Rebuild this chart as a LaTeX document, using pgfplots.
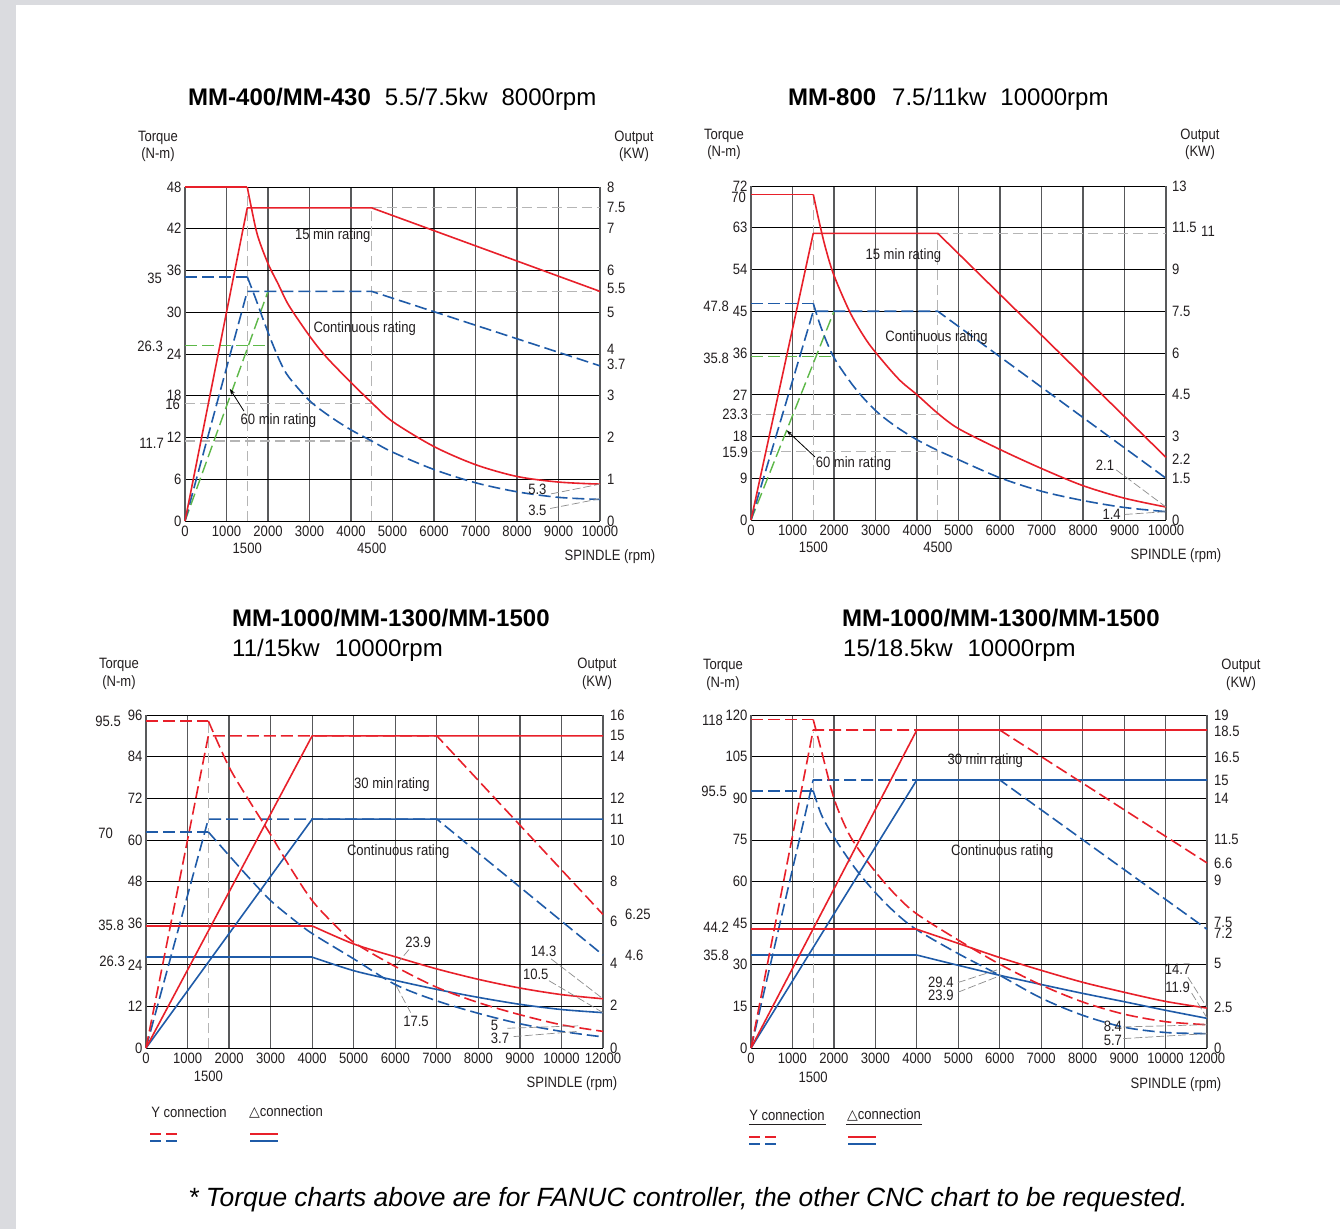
\documentclass[border=0pt]{standalone}
\usepackage{fontspec}
\setmainfont{Liberation Sans}
\newfontfamily\nar[FakeStretch=0.87]{Liberation Sans}
\newfontfamily\sym{DejaVu Sans}
\usepackage{pgfplots}
\pgfplotsset{compat=1.18}
\usetikzlibrary{arrows.meta}

\definecolor{cred}{HTML}{E8202A}
\definecolor{cblue}{HTML}{1F5BA8}
\definecolor{cgreen}{HTML}{5DB848}
\definecolor{cgrid}{HTML}{58595B}
\definecolor{cref}{HTML}{B5B5B5}
\definecolor{ctext}{HTML}{231F20}
\definecolor{cbg}{HTML}{DADBDF}

\newcommand{\sm}{\nar\fontsize{15bp}{15bp}\selectfont}
\newcommand{\ttl}{\fontsize{24bp}{24bp}\selectfont}

\tikzset{
  rd/.style={cred, line width=1.6bp, line join=round},
  bl/.style={cblue, line width=1.6bp, line join=round},
  gr/.style={cgreen, line width=1.4bp},
  dsh/.style={dash pattern=on 12bp off 5bp},
  refl/.style={cref, line width=1.1bp, dash pattern=on 10bp off 5bp},
  lead/.style={black!45, line width=0.7bp, dash pattern=on 8bp off 3bp},
  lbl/.style={font=\sm, text=ctext, inner sep=0pt},
}
\pgfplotsset{
  panel/.style={scale only axis, anchor=south west, clip=false,
    xmin=0, ymin=0, grid=major, major tick length=0pt,
    scaled x ticks=false, scaled y ticks=false,
    x grid style={cgrid, line width=1.2bp},
    y grid style={black, line width=0.8bp},
    separate axis lines,
    x axis line style={black, line width=1bp},
    y axis line style={cgrid, line width=1.2bp},
    ticklabel style={font=\sm, text=ctext},
    xticklabel style={yshift=-1.5bp}},
}
% right-hand (output) labels and extra left labels
\newcommand{\rl}[4][7bp]{\node[lbl, anchor=west, xshift=#1] at (axis cs:#2,#3) {#4};}
\newcommand{\xl}[3]{\node[lbl, anchor=east, xshift=#3] at (axis cs:0,#1) {#2};}
\newcommand{\bl}[2]{\node[lbl] at (axis cs:#1,0) [yshift=-27bp] {#2};}

\begin{document}
\begin{tikzpicture}
\begin{scope}[x=1bp,y=-1bp]
\fill[cbg] (0,0) rectangle (1340,1229);
\fill[white] (16,5) rectangle (1340,1229);
\end{scope}

%================ panel 1 : MM-400/MM-430
\begin{axis}[panel, at={(185bp,-521bp)}, width=415bp, height=334bp,
  xmax=10000, ymax=48,
  xtick={0,1000,...,10000},
  xticklabels={0,1000,2000,3000,4000,5000,6000,7000,8000,9000,10000},
  ytick={0,6,...,48}, yticklabels={0,6,12,18,24,30,36,42,48}]
\addplot[refl] coordinates {(1500,0) (1500,48)};
\addplot[refl] coordinates {(4500,0) (4500,45)};
\addplot[refl] coordinates {(4500,45) (10000,45)};
\addplot[refl] coordinates {(4500,33) (10000,33)};
\addplot[refl] coordinates {(0,16.9) (4500,16.9)};
\addplot[refl] coordinates {(0,11.5) (4500,11.5)};
% 60 min rating
\addplot[gr, dsh] coordinates {(0,25.2) (2000,25.2)};
\addplot[gr, dsh] coordinates {(0,0) (2000,33)};
% continuous rating
\addplot[bl, dsh] coordinates {(0,35.1) (1500,35.1)};
\addplot[bl, dsh, smooth] coordinates {(1500,35.1) (1700,32) (1900,28.7) (2100,25.6)
  (2300,22.8) (2500,20.7) (3000,17.3) (3500,15) (4000,13.1) (4500,11.5) (5000,9.9)
  (6000,7.4) (7000,5.5) (8000,4.2) (9000,3.4) (10000,3.1)};
\addplot[bl, dsh] coordinates {(0,0) (1500,33) (4500,33) (10000,22.3)};
% 15 min rating
\addplot[rd] coordinates {(0,48) (1500,48)};
\addplot[rd, smooth] coordinates {(1500,48) (1600,45) (1750,41) (2000,37) (2250,34)
  (2500,31) (3000,26.6) (3400,23.6) (4000,19.9) (4500,17) (5000,14.3) (6000,10.7)
  (7000,8.1) (8000,6.4) (9000,5.6) (10000,5.3)};
\addplot[rd] coordinates {(0,0) (1500,45) (4500,45) (10000,33)};
\node[lbl] at (axis cs:3560,41) {15 min rating};
\node[lbl] at (axis cs:4330,27.7) {Continuous rating};
\node[lbl] at (axis cs:2250,14.4) {60 min rating};
\draw[black, line width=0.8bp, -{Stealth[length=6bp,width=4bp]}] (axis cs:1420,15.8) -- (axis cs:1080,19);
\node[lbl] at (axis cs:8490,4.6) {5.3};
\node[lbl] at (axis cs:8490,1.5) {3.5};
\draw[lead] (axis cs:8820,3.9) -- (axis cs:10000,5.3);
\draw[lead] (axis cs:8800,1.8) -- (axis cs:10000,3.2);
\rl{10000}{48}{8}\rl{10000}{45}{7.5}\rl{10000}{42}{7}\rl{10000}{36}{6}
\rl{10000}{33.4}{5.5}\rl{10000}{30}{5}\rl{10000}{24.6}{4}\rl{10000}{22.5}{3.7}
\rl{10000}{18}{3}\rl{10000}{12}{2}\rl{10000}{6}{1}\rl{10000}{0}{0}
\xl{16.8}{16}{-5bp}\xl{34.9}{35}{-23bp}\xl{25.1}{26.3}{-22bp}\xl{11.2}{11.7}{-21bp}
\bl{1500}{1500}\bl{4500}{4500}
\end{axis}

%================ panel 2 : MM-800
\begin{axis}[panel, at={(751bp,-520bp)}, width=415bp, height=334bp,
  xmax=10000, ymax=72,
  xtick={0,1000,...,10000},
  xticklabels={0,1000,2000,3000,4000,5000,6000,7000,8000,9000,10000},
  ytick={0,9,...,72}, yticklabels={0,9,18,27,36,45,54,63,72}]
\addplot[refl] coordinates {(1500,0) (1500,70.2)};
\addplot[refl] coordinates {(4500,0) (4500,61.8)};
\addplot[refl] coordinates {(4500,61.8) (10000,61.8)};
\addplot[refl] coordinates {(0,22.8) (4500,22.8)};
\addplot[refl] coordinates {(0,14.8) (4500,14.8)};
\addplot[gr, dsh] coordinates {(0,35.2) (2000,35.2)};
\addplot[gr, dsh] coordinates {(0,0) (2000,45)};
\addplot[bl, dsh] coordinates {(0,46.7) (1500,46.7)};
\addplot[bl, dsh, smooth] coordinates {(1500,46.7) (1700,41.2) (2000,35) (2500,28.5)
  (3000,23.6) (3500,20.1) (4000,17.3) (4500,15) (5000,13) (6000,9.1) (7000,6.2)
  (8000,4.2) (9000,2.7) (10000,1.8)};
\addplot[bl, dsh] coordinates {(0,0) (1500,45) (4500,45) (10000,9)};
\addplot[rd] coordinates {(0,70.2) (1500,70.2)};
\addplot[rd, smooth] coordinates {(1500,70.2) (1650,64) (1800,58.5) (2000,52.7)
  (2400,44.5) (2800,38.5) (3200,34) (3600,30) (4000,27) (4500,23) (5000,19.7)
  (6000,15.2) (7000,11.1) (8000,7.4) (9000,4.7) (10000,2.8)};
\addplot[rd] coordinates {(0,0) (1500,61.8) (4500,61.8) (10000,13.5)};
\node[lbl] at (axis cs:3670,57) {15 min rating};
\node[lbl] at (axis cs:4470,39.4) {Continuous rating};
\node[lbl] at (axis cs:2470,12.1) {60 min rating};
\draw[black, line width=0.8bp, -{Stealth[length=6bp,width=4bp]}] (axis cs:1540,13.6) -- (axis cs:860,19.3);
\node[lbl] at (axis cs:8530,11.7) {2.1};
\node[lbl] at (axis cs:8690,1.3) {1.4};
\draw[lead] (axis cs:8800,10.8) -- (axis cs:10000,2.8);
\draw[lead] (axis cs:9000,1.2) -- (axis cs:10000,1.8);
\rl[6bp]{10000}{72}{13}\rl[6bp]{10000}{63}{11.5}\rl[35bp]{10000}{62.3}{11}
\rl[6bp]{10000}{54}{9}\rl[6bp]{10000}{45}{7.5}\rl[6bp]{10000}{36}{6}
\rl[6bp]{10000}{27}{4.5}\rl[6bp]{10000}{18}{3}\rl[6bp]{10000}{13.1}{2.2}
\rl[6bp]{10000}{9}{1.5}\rl[6bp]{10000}{0}{0}
\xl{69.6}{70}{-5bp}\xl{46}{47.8}{-22bp}\xl{34.9}{35.8}{-22bp}
\xl{22.8}{23.3}{-3bp}\xl{14.6}{15.9}{-3bp}
\bl{1500}{1500}\bl{4500}{4500}
\end{axis}

%================ panel 3 : MM-1000/1300/1500 11/15kw
\begin{axis}[panel, at={(146bp,-1048bp)}, width=457bp, height=333bp,
  xmax=11000, ymax=96,
  xtick={0,1000,...,11000},
  xticklabels={0,1000,2000,3000,4000,5000,6000,7000,8000,9000,10000,12000},
  ytick={0,12,...,96}, yticklabels={0,12,24,36,48,60,72,84,96}]
\addplot[refl] coordinates {(1500,0) (1500,94)};
% continuous rating, Y connection (dashed) and delta connection (solid)
\addplot[bl, dsh] coordinates {(0,62.3) (1500,62.3)};
\addplot[bl, dsh, smooth] coordinates {(1500,62.3) (2000,55.5) (2500,48.8) (3000,42.5)
  (3500,37.5) (4000,33) (5000,25.7) (6000,18.3) (7000,13.6) (8000,10) (9000,7)
  (10000,4.8) (11000,3.2)};
\addplot[bl, dsh] coordinates {(0,0) (1500,66) (7000,66) (11000,26.8)};
\addplot[bl] coordinates {(0,26.2) (4000,26.2)};
\addplot[bl, smooth] coordinates {(4000,26.2) (5000,22.3) (6000,19.5) (7000,16.9)
  (8000,14.6) (9000,12.6) (10000,11.1) (11000,10.2)};
\addplot[bl] coordinates {(0,0) (4000,66) (11000,66)};
% 30 min rating
\addplot[rd, dsh] coordinates {(0,94.3) (1500,94.3)};
\addplot[rd, dsh, smooth] coordinates {(1500,94.3) (2000,81) (2500,71) (3000,61.5)
  (3500,51.5) (4000,42.5) (4500,36) (5000,30.5) (6000,23.5) (7000,17.5) (8000,13.1)
  (9000,9.6) (10000,6.7) (11000,4.8)};
\addplot[rd, dsh] coordinates {(0,0) (1500,90) (7000,90) (11000,38.5)};
\addplot[rd] coordinates {(0,35.2) (4000,35.2)};
\addplot[rd, smooth] coordinates {(4000,35.2) (5000,30) (6000,26.3) (7000,22.8)
  (8000,19.8) (9000,17.3) (10000,15.4) (11000,14.2)};
\addplot[rd] coordinates {(0,0) (4000,90) (11000,90)};
\node[lbl] at (axis cs:5920,76) {30 min rating};
\node[lbl] at (axis cs:6070,56.5) {Continuous rating};
\node[lbl] at (axis cs:6550,30.6) {23.9};
\node[lbl] at (axis cs:6500,7.6) {17.5};
\node[lbl] at (axis cs:9570,27.8) {14.3};
\node[lbl] at (axis cs:9380,21.3) {10.5};
\node[lbl] at (axis cs:8390,6.4) {5};
\node[lbl] at (axis cs:8520,2.8) {3.7};
\draw[lead] (axis cs:6330,28.4) -- (axis cs:6020,24);
\draw[lead] (axis cs:6370,10.2) -- (axis cs:6020,18);
\draw[lead] (axis cs:9750,25.7) -- (axis cs:11000,14.2);
\draw[lead] (axis cs:9700,19.4) -- (axis cs:11000,10.2);
\draw[lead] (axis cs:8700,5.7) -- (axis cs:10400,6.4);
\draw[lead] (axis cs:8850,3.3) -- (axis cs:10400,4.8);
\rl{11000}{96}{16}\rl{11000}{90}{15}\rl{11000}{84}{14}\rl{11000}{72}{12}
\rl{11000}{66}{11}\rl{11000}{60}{10}\rl{11000}{48}{8}\rl{11000}{36.4}{6}
\rl{11000}{24.4}{4}\rl{11000}{12.4}{2}\rl{11000}{0}{0}
\rl[22bp]{11000}{38.6}{6.25}\rl[22bp]{11000}{26.8}{4.6}
\xl{94.3}{95.5}{-25bp}\xl{62}{70}{-33bp}\xl{35.4}{35.8}{-22bp}\xl{25.1}{26.3}{-21bp}
\node[lbl] at (axis cs:1500,0) [yshift=-28bp] {1500};
\end{axis}

%================ panel 4 : MM-1000/1300/1500 15/18.5kw
\begin{axis}[panel, at={(751bp,-1048bp)}, width=456bp, height=333bp,
  xmax=11000, ymax=120,
  xtick={0,1000,...,11000},
  xticklabels={0,1000,2000,3000,4000,5000,6000,7000,8000,9000,10000,12000},
  ytick={0,15,...,120}, yticklabels={0,15,30,45,60,75,90,105,120}]
\addplot[refl] coordinates {(1500,0) (1500,114)};
\addplot[bl, dsh] coordinates {(0,92.7) (1500,92.7)};
\addplot[bl, dsh, smooth] coordinates {(1500,92.7) (1700,84) (2000,76) (2500,65)
  (3000,56) (3500,48.5) (4000,42.6) (5000,34) (6000,26.2) (7000,18) (8000,11.8)
  (9000,7.5) (10000,5.6) (11000,5.2)};
\addplot[bl, dsh] coordinates {(0,0) (1500,96.6) (6000,96.6) (11000,42.8)};
\addplot[bl] coordinates {(0,33.5) (4000,33.5)};
\addplot[bl, smooth] coordinates {(4000,33.5) (5000,29.8) (6000,26.2) (7000,22.9)
  (8000,19.7) (9000,16.7) (10000,13.6) (11000,10.7)};
\addplot[bl] coordinates {(0,0) (4000,96.6) (11000,96.6)};
\addplot[rd, dsh] coordinates {(0,118.4) (1500,118.4)};
\addplot[rd, dsh, smooth] coordinates {(1500,118.4) (1700,107) (2000,90) (2300,79)
  (2550,72.6) (3000,63.5) (3500,55) (4000,48.3) (5000,38.9) (6000,30.2) (7000,22.7)
  (8000,16.6) (9000,12.2) (10000,9.5) (11000,8.4)};
\addplot[rd, dsh] coordinates {(0,0) (1500,114.6) (6000,114.6) (11000,66.7)};
\addplot[rd] coordinates {(0,42.8) (4000,42.8)};
\addplot[rd, smooth] coordinates {(4000,42.8) (5000,37.7) (6000,32.6) (7000,28)
  (8000,23.7) (9000,20.1) (10000,16.8) (11000,14.4)};
\addplot[rd] coordinates {(0,0) (4000,114.6) (11000,114.6)};
\node[lbl] at (axis cs:5650,103.4) {30 min rating};
\node[lbl] at (axis cs:6060,70.6) {Continuous rating};
\node[lbl] at (axis cs:4580,23.6) {29.4};
\node[lbl] at (axis cs:4580,19.1) {23.9};
\node[lbl] at (axis cs:10290,28.2) {14.7};
\node[lbl] at (axis cs:10290,22) {11.9};
\node[lbl] at (axis cs:8730,7.7) {8.4};
\node[lbl] at (axis cs:8730,2.9) {5.7};
\draw[lead] (axis cs:4990,23.6) -- (axis cs:6030,28.6);
\draw[lead] (axis cs:4990,20.1) -- (axis cs:6030,26.2);
\draw[lead] (axis cs:10540,25.5) -- (axis cs:11000,14.6);
\draw[lead] (axis cs:10630,19.8) -- (axis cs:11000,10.8);
\draw[lead] (axis cs:8980,7.6) -- (axis cs:11000,8.4);
\draw[lead] (axis cs:8980,3.4) -- (axis cs:11000,5.2);
\rl{11000}{120}{19}\rl{11000}{114}{18.5}\rl{11000}{104.8}{16.5}\rl{11000}{96.6}{15}
\rl{11000}{89.8}{14}\rl{11000}{75}{11.5}\rl{11000}{66.6}{6.6}\rl{11000}{60.5}{9}
\rl{11000}{45.3}{7.5}\rl{11000}{41.4}{7.2}\rl{11000}{30.4}{5}\rl{11000}{14.8}{2.5}
\rl{11000}{0}{0}
\xl{118}{118}{-28bp}\xl{92.4}{95.5}{-24bp}\xl{43.6}{44.2}{-22bp}\xl{33.5}{35.8}{-22bp}
\node[lbl] at (axis cs:1500,0) [yshift=-29bp] {1500};
\end{axis}

%================ titles, axis names, legends, footer
\begin{scope}[x=1bp,y=-1bp]
\node[anchor=west, inner sep=0pt, text=black] at (188,99) {\ttl\textbf{MM-400/MM-430}\hspace{14bp}5.5/7.5kw\hspace{14bp}8000rpm};
\node[anchor=west, inner sep=0pt, text=black] at (788,99) {\ttl\textbf{MM-800}\hspace{16bp}7.5/11kw\hspace{14bp}10000rpm};
\node[anchor=west, inner sep=0pt, text=black] at (232,618) {\ttl\textbf{MM-1000/MM-1300/MM-1500}};
\node[anchor=west, inner sep=0pt, text=black] at (232,650) {\ttl 11/15kw\hspace{15bp}10000rpm};
\node[anchor=west, inner sep=0pt, text=black] at (842,618) {\ttl\textbf{MM-1000/MM-1300/MM-1500}};
\node[anchor=west, inner sep=0pt, text=black] at (843,650) {\ttl 15/18.5kw\hspace{15bp}10000rpm};

\node[lbl] at (158,138) {Torque}; \node[lbl] at (158,155) {(N-m)};
\node[lbl] at (634,138) {Output}; \node[lbl] at (634,155) {(KW)};
\node[lbl] at (610,557) {SPINDLE (rpm)};
\node[lbl] at (724,136) {Torque}; \node[lbl] at (724,153) {(N-m)};
\node[lbl] at (1200,136) {Output}; \node[lbl] at (1200,153) {(KW)};
\node[lbl] at (1176,556) {SPINDLE (rpm)};
\node[lbl] at (119,665) {Torque}; \node[lbl] at (119,683) {(N-m)};
\node[lbl] at (597,665) {Output}; \node[lbl] at (597,683) {(KW)};
\node[lbl] at (572,1084) {SPINDLE (rpm)};
\node[lbl] at (723,666) {Torque}; \node[lbl] at (723,684) {(N-m)};
\node[lbl] at (1241,666) {Output}; \node[lbl] at (1241,684) {(KW)};
\node[lbl] at (1176,1085) {SPINDLE (rpm)};

% legends
\node[lbl] at (189,1112) {Y connection};
\node[lbl] at (286,1112) {{\sym\fontsize{14bp}{14bp}\selectfont △}connection};
\draw[cred, line width=1.5bp, dash pattern=on 11bp off 5bp] (150,1134) -- (178,1134);
\draw[cblue, line width=1.5bp, dash pattern=on 11bp off 5bp] (150,1141) -- (178,1141);
\draw[cred, line width=1.5bp] (250,1134) -- (278,1134);
\draw[cblue, line width=1.5bp] (250,1141) -- (278,1141);

\node[lbl] at (787,1115) {Y connection};
\node[lbl] at (884,1115) {{\sym\fontsize{14bp}{14bp}\selectfont △}connection};
\draw[ctext, line width=0.6bp] (749,1124) -- (826,1124);
\draw[ctext, line width=0.6bp] (846,1124) -- (922,1124);
\draw[cred, line width=1.5bp, dash pattern=on 11bp off 5bp] (749,1137) -- (777,1137);
\draw[cblue, line width=1.5bp, dash pattern=on 11bp off 5bp] (749,1144) -- (777,1144);
\draw[cred, line width=1.5bp] (848,1137) -- (876,1137);
\draw[cblue, line width=1.5bp] (848,1144) -- (876,1144);

\node[inner sep=0pt, text=black] at (688,1200) {\fontsize{26.4bp}{26.4bp}\selectfont\itshape * Torque charts above are for FANUC controller, the other CNC chart to be requested.};
\end{scope}
\end{tikzpicture}
\end{document}
